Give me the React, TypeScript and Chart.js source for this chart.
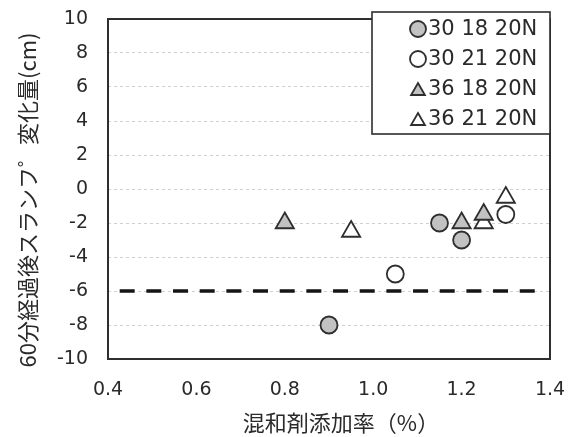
import React, { useEffect, useRef } from "react";
import { Chart, registerables } from "chart.js";

Chart.register(...registerables);

// 混和剤添加率(%) と 60分経過後のスランプ変化量(cm)
const series1X = [0.9, 1.15, 1.2];
const series1Y = [-8, -2, -3];
const series2X = [1.05, 1.3];
const series2Y = [-5, -1.5];
const series3X = [0.8, 1.2, 1.25];
const series3Y = [-2, -2, -1.5];
const series4X = [0.95, 1.25, 1.3];
const series4Y = [-2.5, -2, -0.5];

const seriesNames = ["30 18 20N", "30 21 20N", "36 18 20N", "36 21 20N"];

// 許容下限の破線
const limitX = [0.4, 1.39];
const limitY = -6;

const xTickValues = [0.4, 0.6, 0.8, 1.0, 1.2, 1.4];
const yTickValues = [-10, -8, -6, -4, -2, 0, 2, 4, 6, 8, 10];

const xTitle = "混和剤添加率（%）";
const yTitle = "60分経過後スランフ゜変化量(cm)";

const GRAY = "#c2c2c2";
const EDGE = "#2e2e2e";
const TEXT = "#2a2a2a";

const toPoints = (xs: number[], ys: number[]) => xs.map((x, i) => ({ x, y: ys[i] }));

type MarkerSpec = { shape: "circle" | "triangle"; fill: string };
const markers: MarkerSpec[] = [
  { shape: "circle", fill: GRAY },
  { shape: "circle", fill: "#ffffff" },
  { shape: "triangle", fill: GRAY },
  { shape: "triangle", fill: "#ffffff" },
];

function drawMarker(ctx: CanvasRenderingContext2D, m: MarkerSpec, x: number, y: number, r: number) {
  ctx.save();
  ctx.beginPath();
  if (m.shape === "circle") {
    ctx.arc(x, y, r, 0, Math.PI * 2);
  } else {
    const h = r * 1.5;
    const w = r * Math.sqrt(3);
    ctx.moveTo(x, y - h / 2);
    ctx.lineTo(x + w / 2, y + h / 2);
    ctx.lineTo(x - w / 2, y + h / 2);
    ctx.closePath();
  }
  ctx.fillStyle = m.fill;
  ctx.fill();
  ctx.lineWidth = 1.8;
  ctx.strokeStyle = EDGE;
  ctx.stroke();
  ctx.restore();
}

// plot frame, axis titles and the boxed legend in the upper right
const frameAndTitles = {
  id: "frameAndTitles",
  afterDatasetsDraw(chart: any) {
    const { ctx, chartArea } = chart;
    const { left, right, top, bottom } = chartArea;
    ctx.save();
    ctx.strokeStyle = EDGE;
    ctx.lineWidth = 2;
    ctx.strokeRect(left, top, right - left, bottom - top);

    ctx.fillStyle = TEXT;
    ctx.textAlign = "center";
    ctx.textBaseline = "middle";
    ctx.font = '22px "Noto Sans CJK JP"';
    ctx.fillText(xTitle, (left + right) / 2 + 12, bottom + 64);
    ctx.save();
    ctx.translate(28, (top + bottom) / 2 + 11);
    ctx.rotate(-Math.PI / 2);
    ctx.fillText(yTitle, 0, 0);
    ctx.restore();

    const lx = 372;
    const ly = 12;
    const lw = right - lx;
    const lh = 122;
    ctx.fillStyle = "#ffffff";
    ctx.fillRect(lx, ly, lw, lh);
    ctx.lineWidth = 1.6;
    ctx.strokeStyle = EDGE;
    ctx.strokeRect(lx, ly, lw, lh);
    ctx.font = '21px "DejaVu Sans"';
    ctx.textAlign = "left";
    ctx.textBaseline = "middle";
    seriesNames.forEach((name, i) => {
      const cy = ly + 17 + i * 30;
      drawMarker(ctx, markers[i], 418, cy, 8);
      ctx.fillStyle = TEXT;
      ctx.fillText(name, 428, cy + 1);
    });
    ctx.restore();
  },
};

export default function App() {
  const canvasRef = useRef<HTMLCanvasElement | null>(null);

  useEffect(() => {
    const canvas = canvasRef.current;
    if (!canvas) return;

    const pointDataset = (i: number, xs: number[], ys: number[]) => ({
      label: seriesNames[i],
      data: toPoints(xs, ys),
      pointStyle: markers[i].shape,
      pointRadius: markers[i].shape === "circle" ? 8.5 : 10.5,
      pointBackgroundColor: markers[i].fill,
      pointBorderColor: EDGE,
      pointBorderWidth: 1.8,
      showLine: false,
    });

    const chart = new Chart(canvas, {
      type: "scatter",
      data: {
        datasets: [
          {
            label: "limit",
            data: limitX.map((x) => ({ x, y: limitY })),
            showLine: true,
            borderColor: "#151515",
            borderWidth: 3.5,
            borderDash: [15, 11.67],
            borderDashOffset: 15,
            pointRadius: 0,
            order: 5,
          } as any,
          pointDataset(0, series1X, series1Y),
          pointDataset(1, series2X, series2Y),
          pointDataset(2, series3X, series3Y),
          pointDataset(3, series4X, series4Y),
        ],
      },
      options: {
        animation: false,
        responsive: false,
        events: [],
        layout: { autoPadding: false, padding: { left: 0, top: 19, right: 27, bottom: 0 } },
        plugins: {
          legend: { display: false },
          tooltip: { enabled: false },
        },
        scales: {
          x: {
            type: "linear",
            min: 0.4,
            max: 1.4,
            afterBuildTicks: (scale: any) => {
              scale.ticks = xTickValues.map((v) => ({ value: v }));
            },
            afterFit: (scale: any) => {
              scale.height = 78;
            },
            ticks: {
              padding: 0,
              color: TEXT,
              font: { family: '"DejaVu Sans"', size: 19 },
              callback: (v: any) => Number(v).toFixed(1),
            },
            grid: {
              display: true,
              drawOnChartArea: false,
              drawTicks: true,
              tickLength: 20,
              tickColor: "rgba(0,0,0,0)",
            },
            border: { display: false },
          },
          y: {
            type: "linear",
            min: -10,
            max: 10,
            afterBuildTicks: (scale: any) => {
              scale.ticks = yTickValues.map((v) => ({ value: v }));
            },
            afterFit: (scale: any) => {
              scale.width = 108;
            },
            ticks: {
              padding: 0,
              color: TEXT,
              font: { family: '"DejaVu Sans"', size: 19 },
            },
            grid: {
              color: "#d0d0d0",
              lineWidth: 1,
              drawTicks: true,
              tickLength: 20,
              tickColor: "rgba(0,0,0,0)",
            },
            border: { display: false, dash: [3, 3] },
          },
        },
      },
      plugins: [frameAndTitles],
    });

    return () => chart.destroy();
  }, []);

  return (
    <div style={{ position: "fixed", left: 0, top: 0, width: 577, height: 437, background: "#ffffff" }}>
      <canvas ref={canvasRef} width={577} height={437} style={{ width: 577, height: 437 }} />
    </div>
  );
}
